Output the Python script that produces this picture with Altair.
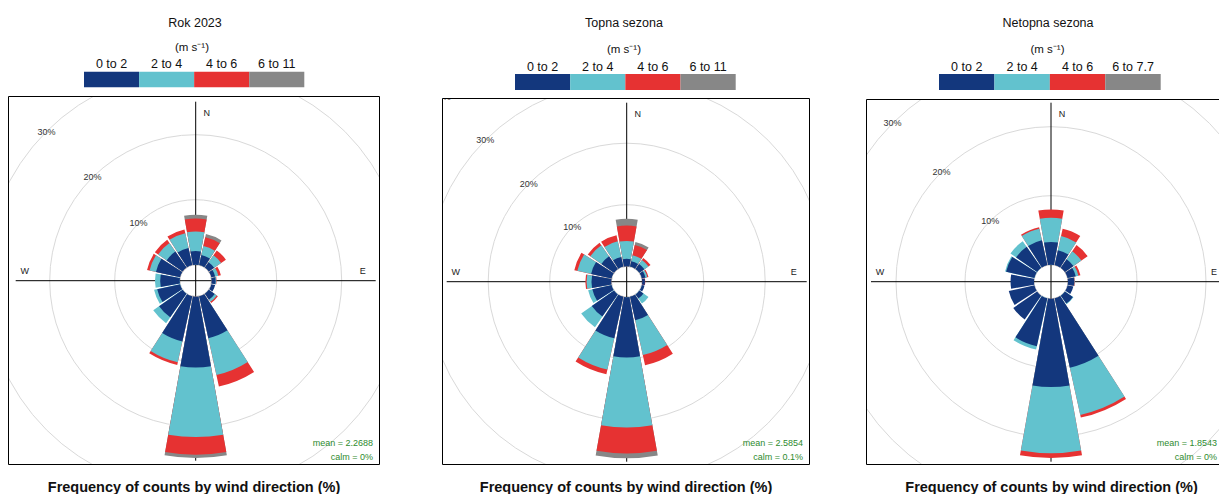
import math
import altair as alt
import pandas as pd

# ---------------- data ----------------
DIRECTIONS = [0, 22.5, 45, 67.5, 90, 112.5, 135, 157.5, 180, 202.5, 225, 247.5, 270, 292.5, 315, 337.5]
COLORS = ["#13377D", "#62C2CE", "#E63232", "#878787"]
RINGS = [10, 20, 30, 40]
RING_LABELS = ["10%", "20%", "30%", "40%"]
UNIT = "(m s\u207b\u00b9)"
FOOTER = "Frequency of counts by wind direction (%)"

P1_TITLE = "Rok 2023"
P1_BANDS = ["0 to 2", "2 to 4", "4 to 6", "6 to 11"]
P1_B1 = [2.1, 1.6, 1.0, 0.6, 0.6, 0.6, 1.1, 6.6, 10.9, 7.1, 4.4, 3.6, 3.0, 3.8, 3.0, 2.7]
P1_B2 = [3.0, 1.4, 1.3, 0.5, 0.1, 0.0, 0.4, 5.8, 10.7, 3.3, 1.1, 0.5, 0.8, 1.0, 1.6, 2.3]
P1_B3 = [2.0, 1.4, 0.9, 0.4, 0.05, 0.0, 0.2, 1.8, 2.7, 0.4, 0.0, 0.0, 0.0, 0.4, 0.6, 0.6]
P1_B4 = [0.6, 0.5, 0.0, 0.0, 0.0, 0.0, 0.0, 0.0, 0.5, 0.0, 0.0, 0.0, 0.0, 0.0, 0.0, 0.0]
P1_MEAN = "mean = 2.2688"
P1_CALM = "calm = 0%"

P2_TITLE = "Topna sezona"
P2_BANDS = ["0 to 2", "2 to 4", "4 to 6", "6 to 11"]
P2_B1 = [1.2, 0.9, 1.0, 0.6, 0.45, 0.45, 0.8, 3.9, 9.8, 6.9, 4.4, 3.2, 3.2, 3.4, 2.5, 1.6]
P2_B2 = [2.9, 1.0, 0.8, 0.3, 0.0, 0.0, 1.0, 5.8, 11.4, 5.2, 2.1, 0.7, 0.8, 2.3, 2.2, 2.6]
P2_B3 = [2.5, 1.7, 0.4, 0.2, 0.05, 0.0, 0.0, 1.7, 4.2, 0.8, 0.0, 0.0, 0.2, 0.5, 0.5, 1.0]
P2_B4 = [1.1, 0.5, 0.0, 0.0, 0.0, 0.0, 0.0, 0.0, 0.8, 0.0, 0.0, 0.0, 0.0, 0.0, 0.0, 0.0]
P2_MEAN = "mean = 2.5854"
P2_CALM = "calm = 0.1%"

P3_TITLE = "Netopna sezona"
P3_BANDS = ["0 to 2", "2 to 4", "4 to 6", "6 to 7.7"]
P3_B1 = [3.3, 2.2, 1.5, 1.2, 0.9, 0.85, 1.4, 10.3, 12.8, 7.1, 4.2, 3.8, 3.4, 4.2, 3.7, 3.7]
P3_B2 = [3.5, 2.1, 1.4, 0.4, 0.05, 0.0, 0.1, 7.0, 9.6, 0.5, 0.0, 0.0, 0.0, 0.15, 1.0, 1.7]
P3_B3 = [1.2, 1.1, 1.1, 0.3, 0.05, 0.0, 0.0, 0.4, 0.7, 0.0, 0.0, 0.0, 0.0, 0.0, 0.0, 0.2]
P3_B4 = [0.0] * 16
P3_MEAN = "mean = 1.8543"
P3_CALM = "calm = 0%"

# ---------------- layout (pixels) ----------------
FONT = "Liberation Sans"
HALF = 0.9 * 22.5 / 2  # half-width of a wedge, degrees

# W: visible width, FW: full frame width (frame may run past the visible edge)
# nlab: how many ring labels fall inside the frame; ex: x offset of the "E" label
L1 = dict(W=372, FW=372, H=369, HH=88, cx=187.7, cy=184.7, off=16.0, k=6.5, mx=365, nlab=3, ex=167,
          tx=187, ty=15.3, ux=184, uy=40, ly=56, bx0=76, bx1=296.3, by0=63.7, by1=79.3)
L2 = dict(W=368, FW=368, H=367, HH=90, cx=184.7, cy=183.7, off=15.5, k=6.15, mx=361, nlab=4, ex=167,
          tx=182, ty=15.3, ux=182, uy=42, ly=58.7, bx0=73, bx1=293.7, by0=66, by1=82)
L3 = dict(W=353, FW=371, H=366, HH=91, cx=185.0, cy=182.7, off=17.0, k=6.9, mx=351, nlab=3, ex=163,
          tx=182, ty=15.3, ux=181.5, uy=42, ly=58.7, bx0=73, bx1=294.7, by0=66, by1=82)

ALL_BANDS = ["0 to 2", "2 to 4", "4 to 6", "6 to 11", "6 to 7.7"]
ALL_COLORS = COLORS + [COLORS[3]]
CSCALE = alt.Scale(domain=ALL_BANDS, range=ALL_COLORS)

ONE = pd.DataFrame({"k": [0]})


def txt(s, x, y, **kw):
    return alt.Chart(pd.DataFrame({"t": [s]})).mark_text(**kw).encode(
        x=alt.value(x), y=alt.value(y), text="t:N")


def header(g, title, bands):
    t = txt(title, g["tx"], g["ty"], fontSize=12.5, color="#111")
    u = txt(UNIT, g["ux"], g["uy"], fontSize=11.5, color="#111")
    lg = pd.DataFrame({"band": bands})
    xs = alt.Scale(domain=bands, range=[g["bx0"], g["bx1"]], paddingInner=0, paddingOuter=0)
    boxes = alt.Chart(lg).mark_rect().encode(
        x=alt.X("band:N", scale=xs, axis=None),
        y=alt.value(g["by0"]), y2=alt.value(g["by1"]),
        color=alt.Color("band:N", scale=CSCALE, legend=None))
    labs = alt.Chart(lg).mark_text(fontSize=12.5, color="#111").encode(
        x=alt.X("band:N", scale=xs, axis=None), y=alt.value(g["ly"]), text="band:N")
    return alt.layer(t, u, boxes, labs).properties(width=g["W"], height=g["HH"])


def rose(g, bands, band_values, mean_txt, calm_txt):
    W, FW, H, cx, cy = g["W"], g["FW"], g["H"], g["cx"], g["cy"]
    rscale = alt.Scale(type="linear", zero=False, domain=[0, 40],
                       range=[g["off"], g["off"] + 40 * g["k"]])
    tscale = alt.Scale(domain=[0, 360], range=[0, 2 * math.pi])
    center = dict(x=alt.value(cx), y=alt.value(cy))

    rings_df = pd.DataFrame({"pct": RINGS, "lab": RING_LABELS, "a0": 0, "a1": 360, "ang": 315})
    rings = alt.Chart(rings_df).mark_arc(filled=False, stroke="#d9d9d9", strokeWidth=1, clip=True).encode(
        theta=alt.Theta("a0:Q", scale=tscale, stack=None), theta2="a1:Q",
        radius=alt.Radius("pct:Q", scale=rscale), **center)

    hline = alt.Chart(ONE).mark_rule(color="black", strokeWidth=1, clip=True).encode(
        x=alt.value(cx - 180), x2=alt.value(cx + 180), y=alt.value(cy))
    vline = alt.Chart(ONE).mark_rule(color="black", strokeWidth=1, clip=True).encode(
        x=alt.value(cx), y=alt.value(cy - 179), y2=alt.value(cy + 180))
    compass = [
        txt("N", cx + 11, cy - 168, fontSize=9, color="#222", clip=True),
        txt("E", cx + g["ex"], cy - 10, fontSize=9, color="#222", clip=True),
        txt("W", cx - 171, cy - 10, fontSize=9, color="#222", clip=True),
    ]

    rows = []
    for i, d in enumerate(DIRECTIONS):
        cum = []
        total = 0.0
        for label, vals in zip(bands, band_values):
            total += vals[i]
            cum.append((label, vals[i], total))
        for label, v, hi in reversed(cum):
            if v > 0:
                rows.append(dict(dir=d, band=label, lo=0.0, hi=hi, start=d - HALF, end=d + HALF))
    wdf = pd.DataFrame(rows)
    wedges = alt.Chart(wdf).mark_arc(clip=True).encode(
        theta=alt.Theta("start:Q", scale=tscale, stack=None), theta2="end:Q",
        radius=alt.Radius("hi:Q", scale=rscale), radius2="lo:Q",
        color=alt.Color("band:N", scale=CSCALE, legend=None),
        **center)

    lab_df = rings_df.iloc[: g["nlab"]]
    plabs = alt.Chart(lab_df).mark_text(fontSize=9, color="#333", clip=True).encode(
        theta=alt.Theta("ang:Q", scale=tscale, stack=None),
        radius=alt.Radius("pct:Q", scale=rscale), text="lab:N", **center)

    mean = txt(mean_txt, g["mx"], H - 22.3, fontSize=9, color="#2E8B2E", align="right", clip=True)
    calm = txt(calm_txt, g["mx"], H - 8, fontSize=9, color="#2E8B2E", align="right", clip=True)
    frame = alt.Chart(ONE).mark_rect(filled=False, color="black", strokeWidth=1, clip=True).encode(
        x=alt.value(0.5), x2=alt.value(FW - 0.5), y=alt.value(0.5), y2=alt.value(H - 0.5))
    foot = txt(FOOTER, FW / 2, H + 22.5, fontSize=14.5, fontWeight="bold", color="#111")

    return alt.layer(rings, hline, vline, *compass, wedges, plabs, mean, calm, frame, foot).properties(
        width=W, height=H)


RES = dict(color="shared", radius="independent", theta="independent")


def panel(g, title, bands, vals, mean_txt, calm_txt):
    return alt.vconcat(header(g, title, bands), rose(g, bands, vals, mean_txt, calm_txt),
                       spacing=0).resolve_scale(**RES)


c1 = panel(L1, P1_TITLE, P1_BANDS, [P1_B1, P1_B2, P1_B3, P1_B4], P1_MEAN, P1_CALM)
c2 = panel(L2, P2_TITLE, P2_BANDS, [P2_B1, P2_B2, P2_B3, P2_B4], P2_MEAN, P2_CALM)
c3 = panel(L3, P3_TITLE, P3_BANDS, [P3_B1, P3_B2, P3_B3, P3_B4], P3_MEAN, P3_CALM)

inner = alt.hconcat(c2, c3, spacing=56).resolve_scale(**RES)
chart = alt.hconcat(c1, inner, spacing=62, padding=0).resolve_scale(**RES).configure(
    font=FONT, view=alt.ViewConfig(strokeWidth=0, stroke="transparent"))

chart.save("out.html", embed_options={"renderer": "svg", "actions": False})
